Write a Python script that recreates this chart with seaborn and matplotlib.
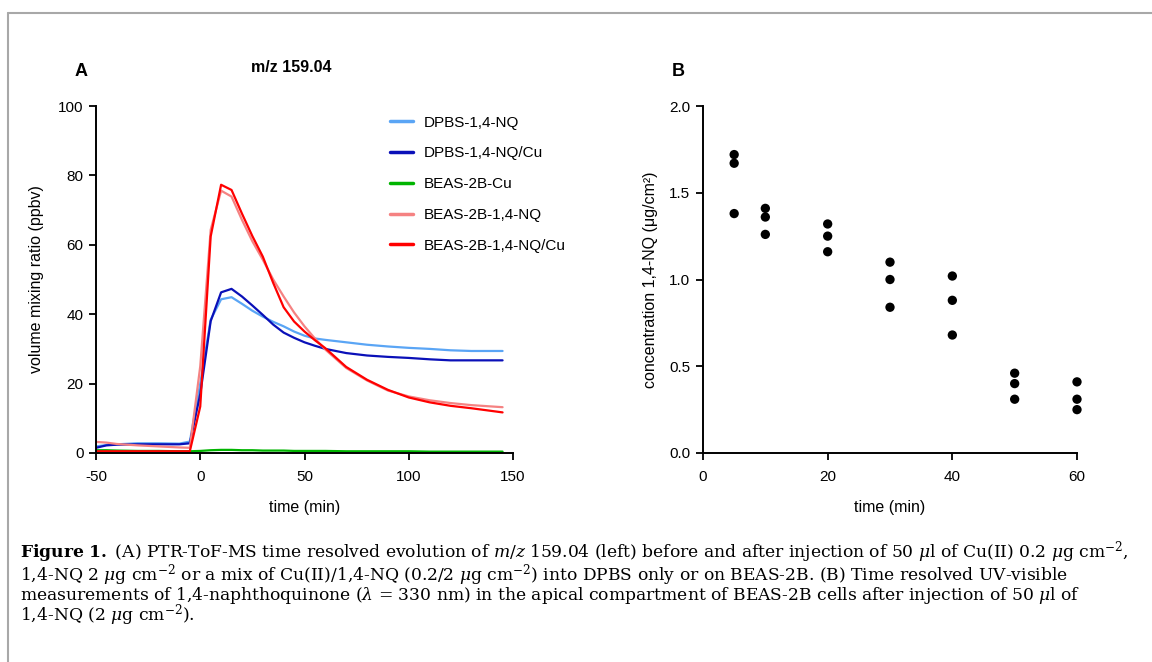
import pandas as pd
import seaborn as sns
import matplotlib.pyplot as plt
from matplotlib.lines import Line2D

# ---- panel A: PTR-ToF-MS m/z 159.04 ----
time_a = [-50, -45, -40, -30, -20, -10, -5, 0, 5, 10, 15, 20, 25, 30, 35, 40,
          45, 50, 55, 60, 70, 80, 90, 100, 110, 120, 130, 145]
dpbs_nq = [1.9, 2.3, 2.5, 2.8, 2.8, 2.7, 3.3, 20.0, 38.4, 44.3, 44.9, 43.0, 41.0, 39.3,
           37.8, 36.5, 35.0, 33.8, 33.0, 32.6, 31.9, 31.2, 30.7, 30.3, 30.0, 29.6, 29.4, 29.4]
dpbs_nq_cu = [1.5, 2.2, 2.4, 2.5, 2.5, 2.5, 2.8, 17.0, 38.0, 46.3, 47.3, 45.1, 42.5, 39.8,
              37.0, 34.7, 33.2, 31.9, 30.9, 30.0, 28.8, 28.1, 27.7, 27.4, 27.0, 26.7, 26.7, 26.7]
beas_cu = [0.8, 0.8, 0.7, 0.6, 0.6, 0.5, 0.5, 0.6, 0.8, 0.9, 0.9, 0.8, 0.8, 0.7,
           0.7, 0.7, 0.6, 0.6, 0.6, 0.6, 0.5, 0.5, 0.5, 0.5, 0.4, 0.4, 0.4, 0.4]
beas_nq = [3.2, 3.0, 2.6, 2.2, 1.9, 1.6, 1.5, 25.0, 64.3, 75.6, 73.9, 67.2, 61.0, 55.7,
           50.0, 45.1, 40.5, 36.5, 33.0, 29.8, 24.5, 20.9, 18.0, 16.3, 15.2, 14.4, 13.8, 13.2]
beas_nq_cu = [0.5, 0.5, 0.5, 0.5, 0.5, 0.5, 0.5, 13.4, 62.4, 77.3, 75.8, 69.0, 62.5, 56.6,
              49.0, 42.0, 37.9, 35.0, 32.5, 30.2, 24.8, 21.1, 18.2, 16.0, 14.6, 13.6, 12.9, 11.7]

series_names = ["DPBS-1,4-NQ", "DPBS-1,4-NQ/Cu", "BEAS-2B-Cu", "BEAS-2B-1,4-NQ", "BEAS-2B-1,4-NQ/Cu"]
series_vals = [dpbs_nq, dpbs_nq_cu, beas_cu, beas_nq, beas_nq_cu]
colors = ["#5AA5F5", "#0A10B8", "#00B400", "#F58282", "#FF0000"]

# ---- panel B: UV-visible 1,4-NQ ----
time_b = [5, 5, 5, 10, 10, 10, 20, 20, 20, 30, 30, 30, 40, 40, 40, 50, 50, 50, 60, 60, 60]
conc_b = [1.72, 1.67, 1.38, 1.41, 1.36, 1.26, 1.32, 1.25, 1.16, 1.10, 1.00, 0.84,
          1.02, 0.88, 0.68, 0.46, 0.40, 0.31, 0.41, 0.31, 0.25]

caption_lines = [
    r"$\mathbf{Figure\ 1.}$ (A) PTR-ToF-MS time resolved evolution of $m/z$ 159.04 (left) before and after injection of 50 $\mu$l of Cu(II) 0.2 $\mu$g cm$^{-2}$,",
    r"1,4-NQ 2 $\mu$g cm$^{-2}$ or a mix of Cu(II)/1,4-NQ (0.2/2 $\mu$g cm$^{-2}$) into DPBS only or on BEAS-2B. (B) Time resolved UV-visible",
    r"measurements of 1,4-naphthoquinone ($\lambda$ = 330 nm) in the apical compartment of BEAS-2B cells after injection of 50 $\mu$l of",
    r"1,4-NQ (2 $\mu$g cm$^{-2}$).",
]

rows = []
for name, vals in zip(series_names, series_vals):
    for t, v in zip(time_a, vals):
        rows.append({"time": t, "value": v, "series": name})
df_a = pd.DataFrame(rows)
df_b = pd.DataFrame({"time": time_b, "conc": conc_b})

sns.set_theme(style="ticks")
plt.rcParams['font.family'] = ['Liberation Sans', 'DejaVu Sans']
plt.rcParams['axes.unicode_minus'] = False
plt.rcParams['mathtext.fontset'] = 'dejavuserif'
plt.rcParams['text.color'] = 'black'
plt.rcParams['axes.labelcolor'] = 'black'

fig = plt.figure(figsize=(11.52, 6.62), dpi=100)
W, H = 1152, 662


def px_axes(x0, y0, x1, y1):
    return fig.add_axes([x0 / W, 1 - y1 / H, (x1 - x0) / W, (y1 - y0) / H])


ax_a = px_axes(96, 106, 513, 453)
ax_b = px_axes(703, 106, 1077, 453)

sns.lineplot(data=df_a, x="time", y="value", hue="series", hue_order=series_names,
             palette=colors, linewidth=1.6, ax=ax_a)
sns.scatterplot(data=df_b, x="time", y="conc", color="black", s=45,
                edgecolor="none", ax=ax_b, clip_on=False)

for ax in (ax_a, ax_b):
    for sp in ("top", "right"):
        ax.spines[sp].set_visible(False)
    for sp in ("left", "bottom"):
        ax.spines[sp].set_linewidth(1.4)
        ax.spines[sp].set_color("black")
    ax.tick_params(direction="out", length=5, width=1.3, labelsize=11,
                   colors="black")
    ax.tick_params(axis="x", pad=7)
    ax.tick_params(axis="y", pad=4)
    ax.set_xlabel("time (min)", fontsize=11.5, labelpad=12)

ax_a.set_xlim(-50, 150)
ax_a.set_ylim(0, 100)
ax_a.set_xticks([-50, 0, 50, 100, 150])
ax_a.set_yticks([0, 20, 40, 60, 80, 100])
ax_a.set_ylabel("volume mixing ratio (ppbv)", fontsize=11.5, labelpad=10)

ax_b.set_xlim(0, 60)
ax_b.set_ylim(0, 2.0)
ax_b.set_xticks([0, 20, 40, 60])
ax_b.set_yticks([0, 0.5, 1.0, 1.5, 2.0])
ax_b.set_yticklabels(["0.0", "0.5", "1.0", "1.5", "2.0"])
ax_b.set_ylabel("concentration 1,4-NQ (μg/cm²)", fontsize=11.5, labelpad=8)

leg = ax_a.legend(loc="upper left", bbox_to_anchor=(0.69, 0.99), frameon=False,
                  fontsize=11, handlelength=1.5, handletextpad=0.75, labelspacing=1.1,
                  borderaxespad=0)
for line in leg.get_lines():
    line.set_linewidth(2.5)

fig.text(75 / W, 1 - 72 / H, "A", fontsize=13, fontweight="bold", ha="left", va="center")
fig.text(672 / W, 1 - 72 / H, "B", fontsize=13, fontweight="bold", ha="left", va="center")
fig.text(291 / W, 1 - 68 / H, "m/z 159.04", fontsize=11.5, fontweight="bold",
         ha="center", va="center")

# border (top and left)
fig.add_artist(Line2D([8 / W, 8 / W], [0, 1 - 13 / H], color="#A8A8A8", lw=1.5))
fig.add_artist(Line2D([8 / W, 1], [1 - 13 / H, 1 - 13 / H], color="#A8A8A8", lw=1.5))

# caption as one block of text
fig.text(20 / W, 1 - 539 / H, "\n".join(caption_lines), fontsize=12.3,
         family="DejaVu Serif", ha="left", va="top", linespacing=0.82)

fig.savefig("out.png", dpi=100)
